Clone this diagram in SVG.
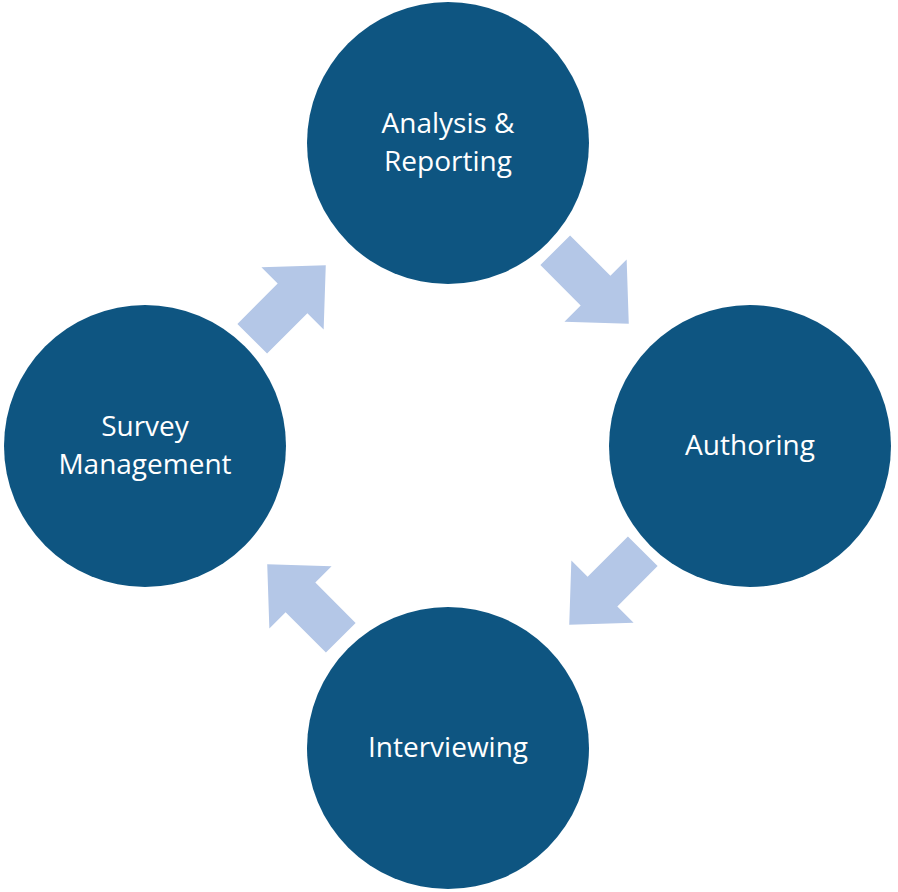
<svg xmlns="http://www.w3.org/2000/svg" width="898" height="892" viewBox="0 0 898 892">
<style>
.n{fill:#0E5581}
.t{fill:#fff;font-family:"Open Sans","Liberation Sans",sans-serif;font-size:28px;text-anchor:middle}
.a{fill:#B4C7E7}
</style>
<defs><polygon id="arr" points="-52,-21 5,-21 5,-44 52,0 5,44 5,21 -52,21"/></defs>
<rect width="898" height="892" fill="#fff"/>
<g id="connectors">
<use href="#arr" class="a" transform="translate(592,287) rotate(45)"/>
<use href="#arr" class="a" transform="translate(606,588) rotate(135)"/>
<use href="#arr" class="a" transform="translate(304,601) rotate(225)"/>
<use href="#arr" class="a" transform="translate(289,302) rotate(-45)"/>
</g>
<g id="analysis"><circle class="n" cx="448" cy="143" r="141"/><text class="t" x="448" y="133">Analysis &amp;</text><text class="t" x="448" y="171">Reporting</text></g>
<g id="authoring"><circle class="n" cx="750" cy="446" r="141"/><text class="t" x="750" y="455">Authoring</text></g>
<g id="interviewing"><circle class="n" cx="448" cy="748" r="141"/><text class="t" x="448" y="757">Interviewing</text></g>
<g id="survey"><circle class="n" cx="145" cy="446" r="141"/><text class="t" x="145" y="436">Survey</text><text class="t" x="145" y="474">Management</text></g>
</svg>
